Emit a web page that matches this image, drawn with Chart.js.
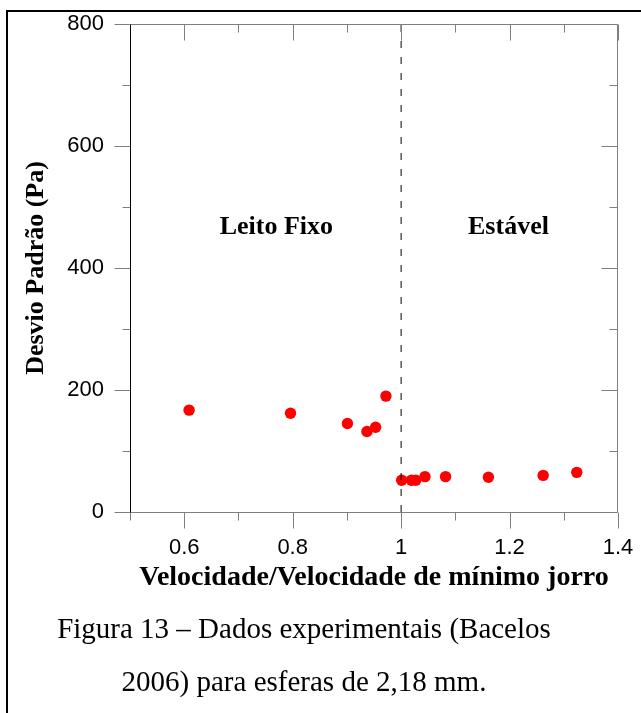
<!DOCTYPE html>
<html>
<head>
<meta charset="utf-8">
<script src="https://cdn.jsdelivr.net/npm/chart.js@4.4.1/dist/chart.umd.min.js"></script>
<style>
html, body { margin: 0; padding: 0; background: #fff; }
#wrap { position: relative; width: 641px; height: 713px; overflow: hidden; }
#frame { position: absolute; left: 6px; top: 10px; width: 720px; height: 740px; border-left: 2px solid #000; border-top: 2px solid #000; }
#c { position: absolute; left: 0; top: 0; }
.cap { position: absolute; left: 0; width: 608px; text-align: center; font-family: "Liberation Serif", "Times New Roman", serif; font-size: 29px; line-height: 36px; color: #000; white-space: nowrap; }
</style>
</head>
<body>
<div id="wrap">
  <div id="frame"></div>
  <canvas id="c" width="641" height="713"></canvas>
  <div class="cap" style="top:610px">Figura 13 – Dados experimentais (Bacelos</div>
  <div class="cap" style="top:663px">2006) para esferas de 2,18 mm.</div>
</div>
<script>
// measured points (velocity ratio, std. deviation in Pa)
const velRatio = [0.609, 0.796, 0.901, 0.937, 0.953, 0.972, 1.001, 1.019, 1.027, 1.044, 1.082, 1.161, 1.262, 1.324];
const desvio   = [167, 162, 145, 132, 139, 190, 52, 52, 52, 58, 58, 57, 60, 65];

// axis ticks
const xMajor = [0.6, 0.8, 1, 1.2, 1.4];
const xMinor = [0.5, 0.7, 0.9, 1.1, 1.3];
const yMajor = [0, 200, 400, 600, 800];
const yMinor = [100, 300, 500, 700];

// regime boundary + region labels
const boundaryX = 1;
const regionNames = ['Leito Fixo', 'Estável'];
const regionX = [0.77, 1.198];
const regionY = [467, 467];

const serif = '"Liberation Serif", "Times New Roman", serif';
const sans = '"Liberation Sans", Arial, sans-serif';

//ticks + frame, drawn from the scales
const frameTicks = {
    id: 'frameTicks',
    afterDraw(chart) {
        const ctx = chart.ctx;
        const a = chart.chartArea;
        const xs = chart.scales.x, ys = chart.scales.y;
        const L = Math.round(a.left) + 0.5, R = Math.round(a.right) - 0.5;
        const T = Math.round(a.top) + 0.5, B = Math.round(a.bottom) + 0.5;
        ctx.save();
        ctx.lineWidth = 1;
        const seg = (x1, y1, x2, y2, col) => {
            ctx.strokeStyle = col;
            ctx.beginPath(); ctx.moveTo(x1, y1); ctx.lineTo(x2, y2); ctx.stroke();
        };
        const gray = '#7f7f7f';
        seg(L, T, R, T, gray);
        seg(L, B, R, B, gray);
        seg(R, T, R, B, gray);
        //x ticks: outward at bottom, inward at top
        xMajor.concat(xMinor).forEach(v => {
            const len = xMajor.includes(v) ? 16 : 8;
            const px = Math.round(xs.getPixelForValue(v)) + 0.5;
            seg(px, B, px, B + len, gray);
            seg(px, T, px, T + len, gray);
        });
        //y ticks: outward at left, inward at right
        yMajor.concat(yMinor).forEach(v => {
            const len = yMajor.includes(v) ? 16 : 8;
            const py = Math.round(ys.getPixelForValue(v)) + 0.5;
            seg(L - len, py, L, py, gray);
            seg(R - len, py, R, py, gray);
        });
        seg(L, T, L, B, '#000');
        ctx.restore();
    },
    afterDatasetsDraw(chart) {
        const ctx = chart.ctx;
        ctx.save();
        ctx.font = 'bold 26px ' + serif;
        ctx.fillStyle = '#000';
        ctx.textAlign = 'center';
        ctx.textBaseline = 'middle';
        for (let i = 0; i < regionNames.length; i++) {
            ctx.fillText(regionNames[i], chart.scales.x.getPixelForValue(regionX[i]), chart.scales.y.getPixelForValue(regionY[i]));
        }
        ctx.restore();
    }
};

new Chart(document.getElementById('c'), {
    type: 'scatter',
    data: {
        datasets: [{
            type: 'line',
            data: [{ x: boundaryX, y: 0 }, { x: boundaryX, y: 800 }],
            borderColor: '#000',
            borderWidth: 1,
            borderDash: [7, 9],
            pointRadius: 0,
            fill: false
        }, {
            data: velRatio.map((v, i) => ({ x: v, y: desvio[i] })),
            backgroundColor: '#ff0000',
            borderWidth: 0,
            pointRadius: 5.7,
            pointHoverRadius: 5.7
        }]
    },
    plugins: [frameTicks],
    options: {
        responsive: false,
        animation: false,
        events: [],
        layout: { padding: { top: 24, right: 23, bottom: 0, left: 0 } },
        plugins: { legend: { display: false }, tooltip: { enabled: false } },
        scales: {
            x: {
                type: 'linear',
                min: 0.5, max: 1.4,
                afterBuildTicks: s => { s.ticks = xMajor.map(v => ({ value: v })); },
                afterFit: s => { s.height = 201; },
                grid: { display: true, drawOnChartArea: false, drawTicks: true, tickLength: 16, color: 'rgba(0,0,0,0)' },
                border: { display: false },
                ticks: {
                    autoSkip: false, maxRotation: 0, padding: 7,
                    color: '#000', font: { family: sans, size: 22 },
                    callback: v => String(+v.toFixed(1))
                },
                title: {
                    display: true,
                    text: 'Velocidade/Velocidade de mínimo jorro',
                    color: '#000',
                    font: { family: serif, size: 28, weight: 'bold' },
                    padding: { top: 0, bottom: 118 }
                }
            },
            y: {
                min: 0, max: 800,
                afterBuildTicks: s => { s.ticks = yMajor.map(v => ({ value: v })); },
                afterFit: s => { s.width = 130; },
                grid: { display: true, drawOnChartArea: false, drawTicks: true, tickLength: 16, color: 'rgba(0,0,0,0)' },
                border: { display: false },
                ticks: { padding: 10, color: '#000', font: { family: sans, size: 22 } },
                title: {
                    display: true,
                    text: 'Desvio Padrão (Pa)',
                    color: '#000',
                    font: { family: serif, size: 26, weight: 'bold' },
                    padding: { top: 21, bottom: 0 }
                }
            }
        }
    }
});
</script>
</body>
</html>
